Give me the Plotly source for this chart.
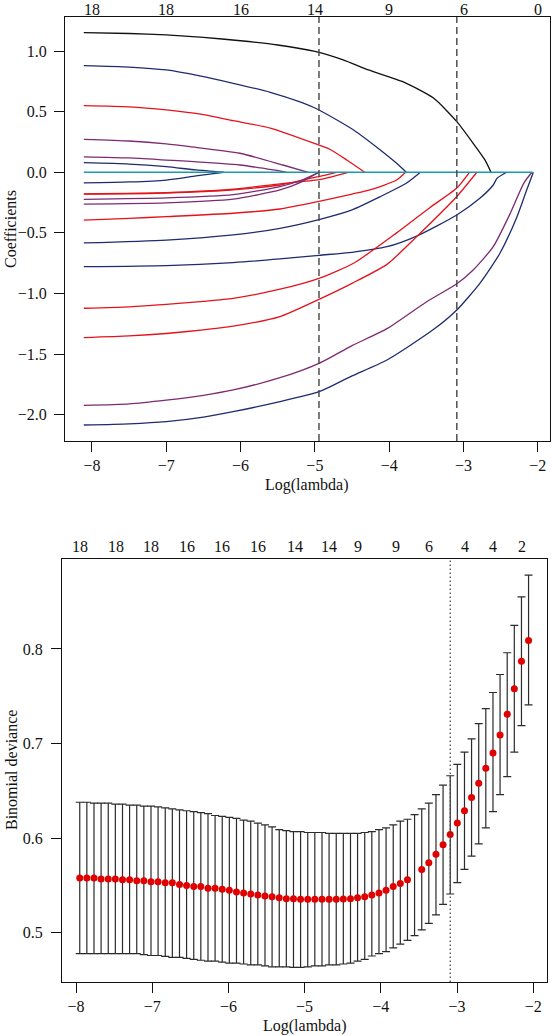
import plotly.graph_objects as go

# ---------------- Top panel: LASSO coefficient paths ----------------
black_x = [-8.11, -7.5, -7.0, -6.5, -6.0, -5.5, -5.0, -4.62, -4.28, -3.81, -3.4, -3.09, -2.87, -2.71, -2.63]
black_y = [1.152, 1.145, 1.133, 1.113, 1.085, 1.05, 0.997, 0.927, 0.844, 0.745, 0.61, 0.418, 0.239, 0.10, 0.0]

navyB_x = [-8.11, -7.5, -7.0, -6.55, -6.1, -5.6, -5.2, -4.945, -4.48, -4.12, -3.9, -3.77]
navyB_y = [0.880, 0.868, 0.844, 0.795, 0.734, 0.660, 0.580, 0.514, 0.349, 0.184, 0.074, 0.0]

redC_x = [-8.11, -7.5, -7.0, -6.5, -6.1, -5.6, -5.0, -4.8, -4.57, -4.33]
redC_y = [0.55, 0.54, 0.514, 0.475, 0.426, 0.365, 0.237, 0.190, 0.101, 0.0]

purpD_x = [-8.11, -7.5, -7.0, -6.68, -6.01, -5.43, -5.09]
purpD_y = [0.272, 0.258, 0.234, 0.211, 0.157, 0.060, 0.0]

purpE_x = [-8.11, -7.5, -7.0, -6.68, -6.01, -5.56, -5.38]
purpE_y = [0.127, 0.118, 0.101, 0.09, 0.06, 0.019, 0.0]

navyF_x = [-8.11, -7.5, -7.0, -6.6, -6.23]
navyF_y = [0.079, 0.068, 0.046, 0.019, 0.0]

navyG_x = [-8.11, -7.5, -7.0, -6.6, -6.23]
navyG_y = [-0.088, -0.08, -0.064, -0.03, 0.0]

redH1_x = [-8.11, -7.0, -6.1, -5.47, -4.945, -4.55]
redH1_y = [-0.178, -0.168, -0.14, -0.095, -0.06, 0.0]

redH2_x = [-8.11, -7.0, -6.1, -5.47, -4.945, -4.71]
redH2_y = [-0.181, -0.171, -0.145, -0.105, -0.035, 0.0]

purpI_x = [-8.11, -7.0, -6.1, -5.47, -5.2, -4.945]
purpI_y = [-0.223, -0.212, -0.185, -0.119, -0.07, 0.0]

purpJ_x = [-8.11, -7.0, -6.1, -5.47, -5.2, -4.945]
purpJ_y = [-0.262, -0.252, -0.222, -0.146, -0.085, 0.0]

redK_x = [-8.11, -7.5, -7.0, -6.1, -5.47, -4.945, -4.5, -4.26, -3.9, -3.78]
redK_y = [-0.394, -0.38, -0.366, -0.338, -0.303, -0.24, -0.18, -0.146, -0.064, 0.0]

navyL_x = [-8.11, -7.0, -6.1, -5.47, -4.945, -4.5, -4.12, -3.77, -3.58]
navyL_y = [-0.583, -0.559, -0.517, -0.462, -0.39, -0.31, -0.201, -0.091, 0.0]

navyM_x = [-8.11, -7.0, -6.1, -5.47, -4.945, -4.5, -4.03, -3.63, -3.09, -2.78, -2.6, -2.55, -2.42]
navyM_y = [-0.779, -0.77, -0.745, -0.715, -0.685, -0.66, -0.614, -0.526, -0.352, -0.215, -0.105, -0.05, 0.0]

redN_x = [-8.11, -7.5, -7.0, -6.5, -6.1, -5.47, -4.945, -4.48, -3.9, -3.45, -3.09, -2.92]
redN_y = [-1.122, -1.11, -1.09, -1.065, -1.04, -0.965, -0.875, -0.751, -0.50, -0.29, -0.13, 0.0]

redN2_x = [-8.11, -7.5, -7.0, -6.5, -6.1, -5.47, -4.945, -4.5, -4.03, -3.63, -3.09, -2.82]
redN2_y = [-1.364, -1.35, -1.33, -1.30, -1.27, -1.19, -1.048, -0.916, -0.76, -0.531, -0.20, 0.0]

purpO_x = [-8.11, -7.5, -7.0, -6.5, -6.1, -5.47, -4.945, -4.5, -4.03, -3.5, -3.09, -2.87, -2.6, -2.37, -2.19, -2.08]
purpO_y = [-1.923, -1.91, -1.879, -1.84, -1.796, -1.695, -1.576, -1.43, -1.29, -1.07, -0.92, -0.806, -0.614, -0.338, -0.091, 0.0]

navyP_x = [-8.11, -7.5, -7.0, -6.5, -6.1, -5.47, -4.945, -4.5, -4.03, -3.41, -3.09, -2.78, -2.51, -2.28, -2.15, -2.06]
navyP_y = [-2.085, -2.075, -2.057, -2.02, -1.975, -1.892, -1.81, -1.68, -1.549, -1.30, -1.136, -0.916, -0.668, -0.366, -0.146, 0.0]

cyan_x = [-8.11, -2.07]
cyan_y = [0.0, 0.0]

top_df_x = [-8, -7, -6, -5, -4, -3, -2]
top_df_labels = ["18", "18", "16", "14", "9", "6", "0"]
lambda_min_log = -4.945
lambda_1se_log = -3.09

# ---------------- Bottom panel: cross-validation ----------------
cv_loglambda = [-7.951, -7.858, -7.764, -7.671, -7.577, -7.484, -7.390, -7.297, -7.203, -7.110,
                -7.016, -6.923, -6.829, -6.736, -6.642, -6.549, -6.455, -6.362, -6.268, -6.175,
                -6.081, -5.988, -5.894, -5.801, -5.707, -5.614, -5.520, -5.427, -5.333, -5.240,
                -5.146, -5.053, -4.959, -4.866, -4.772, -4.679, -4.585, -4.492, -4.398, -4.305,
                -4.211, -4.118, -4.024, -3.931, -3.837, -3.744, -3.650, -3.557, -3.463, -3.370,
                -3.276, -3.183, -3.089, -2.996, -2.902, -2.809, -2.715, -2.622, -2.528, -2.435,
                -2.341, -2.248, -2.154, -2.061]
cv_mean = [0.558, 0.558, 0.558, 0.557, 0.557, 0.557, 0.556, 0.556, 0.555, 0.555,
           0.554, 0.554, 0.553, 0.553, 0.551, 0.550, 0.549, 0.549, 0.547, 0.547,
           0.546, 0.545, 0.543, 0.542, 0.541, 0.540, 0.539, 0.538, 0.537, 0.536,
           0.536, 0.5355, 0.5354, 0.5354, 0.5354, 0.5354, 0.5355, 0.5356, 0.536, 0.537,
           0.538, 0.540, 0.542, 0.545, 0.549, 0.552, 0.556, None, 0.567, 0.574,
           0.583, 0.593, 0.604, 0.616, 0.629, 0.643, 0.658, 0.674, 0.690, 0.709,
           0.731, 0.758, 0.787, 0.809]
cv_upper = [0.638, 0.638, 0.637, 0.637, 0.637, 0.636, 0.636, 0.635, 0.635, 0.634,
            0.634, 0.633, 0.632, 0.631, 0.630, 0.629, 0.628, 0.627, 0.626, 0.624,
            0.623, 0.622, 0.621, 0.619, 0.618, 0.616, 0.614, 0.612, 0.609, 0.608,
            0.607, 0.607, 0.606, 0.606, 0.606, 0.605, 0.605, 0.605, 0.605, 0.605,
            0.606, 0.607, 0.609, 0.611, 0.614, 0.618, 0.620, 0.625, 0.631, 0.637,
            0.646, 0.656, 0.666, 0.678, 0.691, 0.705, 0.721, 0.737, 0.754, 0.773,
            0.796, 0.825, 0.855, 0.878]
cv_lower = [0.478, 0.478, 0.478, 0.478, 0.478, 0.478, 0.478, 0.478, 0.478, 0.477,
            0.476, 0.476, 0.475, 0.474, 0.474, 0.473, 0.472, 0.471, 0.470, 0.470,
            0.469, 0.468, 0.468, 0.467, 0.466, 0.466, 0.465, 0.464, 0.464, 0.464,
            0.4635, 0.4635, 0.464, 0.465, 0.465, 0.466, 0.466, 0.467, 0.468, 0.470,
            0.472, 0.4755, 0.478, 0.480, 0.484, 0.488, 0.492, 0.497, 0.503, 0.510,
            0.519, 0.530, 0.541, 0.553, 0.567, 0.581, 0.594, 0.611, 0.628, 0.646,
            0.665, 0.691, 0.719, 0.741]
cv_df_x = [-7.95, -7.48, -7.02, -6.55, -6.08, -5.61, -5.12, -4.68, -4.30, -3.80, -3.37, -2.90, -2.53, -2.15]
cv_df_labels = ["18", "18", "18", "16", "16", "16", "14", "14", "9", "9", "6", "4", "4", "2"]
cv_1se_log = -3.089

x_ticks = [-8, -7, -6, -5, -4, -3, -2]
top_y_ticks = [-2.0, -1.5, -1.0, -0.5, 0.0, 0.5, 1.0]
bot_y_ticks = [0.5, 0.6, 0.7, 0.8]

# ---------------- styling ----------------
BLACK = "#111111"
NAVY = "#1f2b6e"
RED = "#e4131b"
PURPLE = "#7d2a72"
CYAN = "#1a9aaa"
FONT = "Liberation Serif"
W, H = 552, 1036

paths = [
    (black_x, black_y, BLACK), (navyB_x, navyB_y, NAVY), (redC_x, redC_y, RED),
    (purpD_x, purpD_y, PURPLE), (purpE_x, purpE_y, PURPLE), (navyF_x, navyF_y, NAVY),
    (navyG_x, navyG_y, NAVY), (redH1_x, redH1_y, RED), (redH2_x, redH2_y, RED),
    (purpI_x, purpI_y, PURPLE), (purpJ_x, purpJ_y, PURPLE), (redK_x, redK_y, RED),
    (navyL_x, navyL_y, NAVY), (navyM_x, navyM_y, NAVY), (redN_x, redN_y, RED),
    (redN2_x, redN2_y, RED), (purpO_x, purpO_y, PURPLE), (navyP_x, navyP_y, NAVY),
    (cyan_x, cyan_y, CYAN),
]

fig = go.Figure()
for px_, py_, col in paths:
    fig.add_trace(go.Scatter(x=px_, y=py_, mode="lines", xaxis="x", yaxis="y",
                             line=dict(color=col, width=1.3, shape="spline", smoothing=0.6),
                             hoverinfo="skip", showlegend=False))

cv_mid = [(u + l) / 2 for u, l in zip(cv_upper, cv_lower)]
cv_half = [(u - l) / 2 for u, l in zip(cv_upper, cv_lower)]
fig.add_trace(go.Scatter(x=cv_loglambda, y=cv_mid, mode="markers", xaxis="x2", yaxis="y2",
                         marker=dict(size=1, color="rgba(0,0,0,0)"),
                         error_y=dict(type="data", array=cv_half, symmetric=True,
                                      color="#2b2b2b", thickness=1.2, width=4),
                         hoverinfo="skip", showlegend=False))
fig.add_trace(go.Scatter(x=cv_loglambda, y=cv_mean, mode="markers", xaxis="x2", yaxis="y2",
                         marker=dict(size=7, color="#e00000", line=dict(width=0)),
                         showlegend=False))

# vertical reference lines
for v in (lambda_min_log, lambda_1se_log):
    fig.add_shape(type="line", xref="x", yref="y domain", x0=v, x1=v, y0=0, y1=1,
                  line=dict(color="#444444", width=1.4, dash="7px,4px"))
fig.add_shape(type="line", xref="x2", yref="y2 domain", x0=cv_1se_log, x1=cv_1se_log, y0=0, y1=1,
              line=dict(color="#444444", width=1.2, dash="1.5px,2.5px"))


def px2x(p):
    return p / W


def py2y(p):
    return 1 - p / H


txt_font = dict(family=FONT, size=16, color="#111")
ann = []
for xv, lab in zip(top_df_x, top_df_labels):
    ann.append(dict(x=xv, y=1.0, xref="x", yref="paper", text=lab, showarrow=False,
                    xanchor="center", yanchor="top", borderpad=0, font=txt_font))
for xv, lab in zip(cv_df_x, cv_df_labels):
    ann.append(dict(x=xv, y=py2y(546), xref="x2", yref="paper", text=lab, showarrow=False,
                    xanchor="center", yanchor="middle", font=txt_font))
ann += [
    dict(x=px2x(307), y=py2y(485), xref="paper", yref="paper", text="Log(lambda)", showarrow=False,
         xanchor="center", yanchor="middle", font=txt_font),
    dict(x=px2x(305), y=py2y(1026), xref="paper", yref="paper", text="Log(lambda)", showarrow=False,
         xanchor="center", yanchor="middle", font=txt_font),
    dict(x=px2x(11), y=py2y(229), xref="paper", yref="paper", text="Coefficients", showarrow=False,
         xanchor="center", yanchor="middle", textangle=-90, font=txt_font),
    dict(x=px2x(11), y=py2y(770), xref="paper", yref="paper", text="Binomial deviance", showarrow=False,
         xanchor="center", yanchor="middle", textangle=-90, font=txt_font),
]

axis_common = dict(showgrid=False, zeroline=False, showline=True, linecolor="#111", linewidth=1,
                   mirror=True, ticks="outside", ticklen=10, tickwidth=1, tickcolor="#111",
                   tickfont=txt_font)

fig.update_layout(
    width=W, height=H, margin=dict(l=0, r=0, t=0, b=0),
    paper_bgcolor="white", plot_bgcolor="white", showlegend=False,
    xaxis=dict(domain=[px2x(65), px2x(550)], range=[-8.363, -1.836], anchor="y",
               tickvals=x_ticks, ticktext=[f"\u2212{abs(v)}" for v in x_ticks],
               ticklabelstandoff=0, **axis_common),
    yaxis=dict(domain=[py2y(441), py2y(17)], range=[-2.217, 1.281], anchor="x",
               tickvals=top_y_ticks, tickformat=".1f", ticklabelstandoff=4, **axis_common),
    xaxis2=dict(domain=[px2x(62), px2x(547)], range=[-8.184, -1.819], anchor="y2",
                tickvals=x_ticks, ticktext=[f"\u2212{abs(v)}" for v in x_ticks],
                ticklabelstandoff=0, **axis_common),
    yaxis2=dict(domain=[py2y(982), py2y(559)], range=[0.448, 0.8951], anchor="x2",
                tickvals=bot_y_ticks, tickformat=".1f", ticklabelstandoff=5, **axis_common),
    annotations=ann,
)

fig.write_html("out.html", config={"displayModeBar": False},
               post_script="document.body.style.margin='0';document.body.style.overflow='hidden';")
